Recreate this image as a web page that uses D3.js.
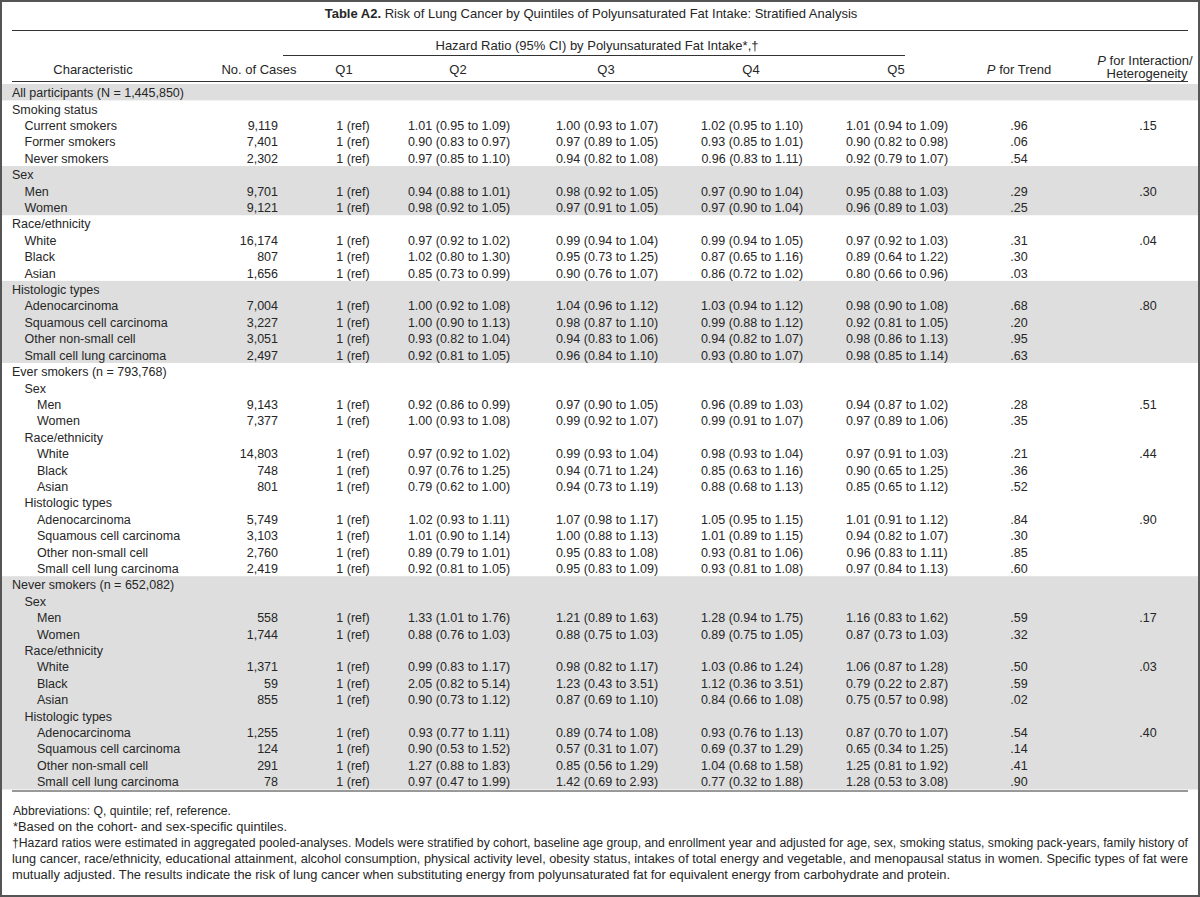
<!DOCTYPE html>
<html lang="en">
<head>
  <meta charset="UTF-8">
  <title>Table A2: Lung Cancer by Quintiles of Polyunsaturated Fat Intake</title>
  <script src="https://d3js.org/d3.v7.min.js"></script>
  <style>
    body { margin: 0; background: white; }
    svg { display: block; font-family: "Liberation Sans", Arial, sans-serif; }
    .cell { font-size: 12.5px; fill: #262626; }
    .head { font-size: 13px; fill: #262626; }
    .note { font-family: "Liberation Sans Narrow", "Liberation Sans", Arial, sans-serif; font-size: 12px; fill: #262626; }
    .rule { stroke: #333; stroke-width: 1; }
  </style>
</head>
<body>
  <svg width="1200" height="897"></svg>

  <script>
    const labels = [
      "All participants (N = 1,445,850)", "Smoking status", "Current smokers", "Former smokers", "Never smokers",
      "Sex", "Men", "Women",
      "Race/ethnicity", "White", "Black", "Asian",
      "Histologic types", "Adenocarcinoma", "Squamous cell carcinoma", "Other non-small cell", "Small cell lung carcinoma",
      "Ever smokers (n = 793,768)", "Sex", "Men", "Women", "Race/ethnicity", "White", "Black", "Asian",
      "Histologic types", "Adenocarcinoma", "Squamous cell carcinoma", "Other non-small cell", "Small cell lung carcinoma",
      "Never smokers (n = 652,082)", "Sex", "Men", "Women", "Race/ethnicity", "White", "Black", "Asian",
      "Histologic types", "Adenocarcinoma", "Squamous cell carcinoma", "Other non-small cell", "Small cell lung carcinoma"
    ];
    // hierarchy depth of each row
    const levels = [0, 0, 1, 1, 1, 0, 1, 1, 0, 1, 1, 1, 0, 1, 1, 1, 1,
      0, 1, 2, 2, 1, 2, 2, 2, 1, 2, 2, 2, 2,
      0, 1, 2, 2, 1, 2, 2, 2, 1, 2, 2, 2, 2];
    const cases = [null, null, 9119, 7401, 2302, null, 9701, 9121, null, 16174, 807, 1656,
      null, 7004, 3227, 3051, 2497,
      null, null, 9143, 7377, null, 14803, 748, 801, null, 5749, 3103, 2760, 2419,
      null, null, 558, 1744, null, 1371, 59, 855, null, 1255, 124, 291, 78];
    // hazard ratios [estimate, lower, upper]
    const q2 = [null, null, [1.01, 0.95, 1.09], [0.90, 0.83, 0.97], [0.97, 0.85, 1.10], null, [0.94, 0.88, 1.01], [0.98, 0.92, 1.05],
      null, [0.97, 0.92, 1.02], [1.02, 0.80, 1.30], [0.85, 0.73, 0.99],
      null, [1.00, 0.92, 1.08], [1.00, 0.90, 1.13], [0.93, 0.82, 1.04], [0.92, 0.81, 1.05],
      null, null, [0.92, 0.86, 0.99], [1.00, 0.93, 1.08], null, [0.97, 0.92, 1.02], [0.97, 0.76, 1.25], [0.79, 0.62, 1.00],
      null, [1.02, 0.93, 1.11], [1.01, 0.90, 1.14], [0.89, 0.79, 1.01], [0.92, 0.81, 1.05],
      null, null, [1.33, 1.01, 1.76], [0.88, 0.76, 1.03], null, [0.99, 0.83, 1.17], [2.05, 0.82, 5.14], [0.90, 0.73, 1.12],
      null, [0.93, 0.77, 1.11], [0.90, 0.53, 1.52], [1.27, 0.88, 1.83], [0.97, 0.47, 1.99]];
    const q3 = [null, null, [1.00, 0.93, 1.07], [0.97, 0.89, 1.05], [0.94, 0.82, 1.08], null, [0.98, 0.92, 1.05], [0.97, 0.91, 1.05],
      null, [0.99, 0.94, 1.04], [0.95, 0.73, 1.25], [0.90, 0.76, 1.07],
      null, [1.04, 0.96, 1.12], [0.98, 0.87, 1.10], [0.94, 0.83, 1.06], [0.96, 0.84, 1.10],
      null, null, [0.97, 0.90, 1.05], [0.99, 0.92, 1.07], null, [0.99, 0.93, 1.04], [0.94, 0.71, 1.24], [0.94, 0.73, 1.19],
      null, [1.07, 0.98, 1.17], [1.00, 0.88, 1.13], [0.95, 0.83, 1.08], [0.95, 0.83, 1.09],
      null, null, [1.21, 0.89, 1.63], [0.88, 0.75, 1.03], null, [0.98, 0.82, 1.17], [1.23, 0.43, 3.51], [0.87, 0.69, 1.10],
      null, [0.89, 0.74, 1.08], [0.57, 0.31, 1.07], [0.85, 0.56, 1.29], [1.42, 0.69, 2.93]];
    const q4 = [null, null, [1.02, 0.95, 1.10], [0.93, 0.85, 1.01], [0.96, 0.83, 1.11], null, [0.97, 0.90, 1.04], [0.97, 0.90, 1.04],
      null, [0.99, 0.94, 1.05], [0.87, 0.65, 1.16], [0.86, 0.72, 1.02],
      null, [1.03, 0.94, 1.12], [0.99, 0.88, 1.12], [0.94, 0.82, 1.07], [0.93, 0.80, 1.07],
      null, null, [0.96, 0.89, 1.03], [0.99, 0.91, 1.07], null, [0.98, 0.93, 1.04], [0.85, 0.63, 1.16], [0.88, 0.68, 1.13],
      null, [1.05, 0.95, 1.15], [1.01, 0.89, 1.15], [0.93, 0.81, 1.06], [0.93, 0.81, 1.08],
      null, null, [1.28, 0.94, 1.75], [0.89, 0.75, 1.05], null, [1.03, 0.86, 1.24], [1.12, 0.36, 3.51], [0.84, 0.66, 1.08],
      null, [0.93, 0.76, 1.13], [0.69, 0.37, 1.29], [1.04, 0.68, 1.58], [0.77, 0.32, 1.88]];
    const q5 = [null, null, [1.01, 0.94, 1.09], [0.90, 0.82, 0.98], [0.92, 0.79, 1.07], null, [0.95, 0.88, 1.03], [0.96, 0.89, 1.03],
      null, [0.97, 0.92, 1.03], [0.89, 0.64, 1.22], [0.80, 0.66, 0.96],
      null, [0.98, 0.90, 1.08], [0.92, 0.81, 1.05], [0.98, 0.86, 1.13], [0.98, 0.85, 1.14],
      null, null, [0.94, 0.87, 1.02], [0.97, 0.89, 1.06], null, [0.97, 0.91, 1.03], [0.90, 0.65, 1.25], [0.85, 0.65, 1.12],
      null, [1.01, 0.91, 1.12], [0.94, 0.82, 1.07], [0.96, 0.83, 1.11], [0.97, 0.84, 1.13],
      null, null, [1.16, 0.83, 1.62], [0.87, 0.73, 1.03], null, [1.06, 0.87, 1.28], [0.79, 0.22, 2.87], [0.75, 0.57, 0.98],
      null, [0.87, 0.70, 1.07], [0.65, 0.34, 1.25], [1.25, 0.81, 1.92], [1.28, 0.53, 3.08]];
    const pTrend = [null, null, 0.96, 0.06, 0.54, null, 0.29, 0.25, null, 0.31, 0.30, 0.03,
      null, 0.68, 0.20, 0.95, 0.63,
      null, null, 0.28, 0.35, null, 0.21, 0.36, 0.52, null, 0.84, 0.30, 0.85, 0.60,
      null, null, 0.59, 0.32, null, 0.50, 0.59, 0.02, null, 0.54, 0.14, 0.41, 0.90];
    const pInteraction = [null, null, 0.15, null, null, null, 0.30, null, null, 0.04, null, null,
      null, 0.80, null, null, null,
      null, null, 0.51, null, null, 0.44, null, null, null, 0.90, null, null, null,
      null, null, 0.17, null, null, 0.03, null, null, null, 0.40, null, null, null];

    const footnotes = [
      "Abbreviations: Q, quintile; ref, reference.",
      "*Based on the cohort- and sex-specific quintiles.",
      "\u2020Hazard ratios were estimated in aggregated pooled-analyses. Models were stratified by cohort, baseline age group, and enrollment year and adjusted for age, sex, smoking status, smoking pack-years, family history of",
      "lung cancer, race/ethnicity, educational attainment, alcohol consumption, physical activity level, obesity status, intakes of total energy and vegetable, and menopausal status in women. Specific types of fat were",
      "mutually adjusted. The results indicate the risk of lung cancer when substituting energy from polyunsaturated fat for equivalent energy from carbohydrate and protein."
    ];

    // ---- layout ----
    const svg = d3.select("svg");
    const W = 1200, H = 897, left = 12, right = 1188;

    const fmtCases = d3.format(",");
    const f2 = d3.format(".2f");
    const fmtHR = d => d ? `${f2(d[0])} (${f2(d[1])} to ${f2(d[2])})` : "";
    const fmtP = p => p == null ? "" : f2(p).replace(/^0/, "");

    const rows = labels.map((label, i) => ({
      i, label, level: levels[i],
      cases: cases[i] == null ? "" : fmtCases(cases[i]),
      q1: cases[i] == null ? "" : "1 (ref)",
      q2: fmtHR(q2[i]), q3: fmtHR(q3[i]), q4: fmtHR(q4[i]), q5: fmtHR(q5[i]),
      pt: fmtP(pTrend[i]), pi: fmtP(pInteraction[i])
    }));

    // group = block started by each top-level row; alternate blocks are shaded
    let grp = -1;
    rows.forEach(r => { if (r.level === 0) grp++; r.group = grp; });

    const y = d3.scaleBand().domain(d3.range(rows.length)).range([84, 789.5]);
    const indent = d3.scaleLinear().domain([0, 2]).range([left, left + 25]);

    const cols = [
      { key: "cases", x: 278, anchor: "end" },
      { key: "q1", x: 353, anchor: "middle" },
      { key: "q2", x: 459, anchor: "middle" },
      { key: "q3", x: 607, anchor: "middle" },
      { key: "q4", x: 752, anchor: "middle" },
      { key: "q5", x: 897, anchor: "middle" },
      { key: "pt", x: 1019, anchor: "middle" },
      { key: "pi", x: 1148, anchor: "middle" }
    ];

    // outer frame
    svg.append("rect")
      .attr("x", 1).attr("y", 1).attr("width", W - 2).attr("height", H - 2)
      .attr("fill", "white").attr("stroke", "#555").attr("stroke-width", 2);

    // shaded bands
    const groups = d3.groups(rows, r => r.group).filter(([g]) => g % 2 === 0);
    svg.append("g").selectAll("rect")
      .data(groups)
      .join("rect")
      .attr("x", 2)
      .attr("width", W - 4)
      .attr("y", ([, rs]) => y(rs[0].i))
      .attr("height", ([, rs]) => y.step() * rs.length)
      .attr("fill", "#dedede");

    // title
    const title = svg.append("text").attr("class", "head")
      .attr("x", W / 2 - 9).attr("y", 17.5).attr("text-anchor", "middle");
    title.append("tspan").attr("font-weight", "bold").text("Table A2.");
    title.append("tspan").text(" Risk of Lung Cancer by Quintiles of Polyunsaturated Fat Intake: Stratified Analysis");

    // rules
    svg.append("line").attr("class", "rule").attr("x1", left).attr("x2", right).attr("y1", 30.5).attr("y2", 30.5);
    svg.append("line").attr("class", "rule").attr("x1", 283).attr("x2", 905).attr("y1", 55.5).attr("y2", 55.5);
    svg.append("line").attr("class", "rule").attr("x1", left).attr("x2", right).attr("y1", 81.5).attr("y2", 81.5);
    svg.append("line").attr("class", "rule").attr("x1", left).attr("x2", right).attr("y1", 791).attr("y2", 791)
      .attr("stroke-width", 1.6);

    // header
    const head = svg.append("g").attr("class", "head").attr("text-anchor", "middle");
    head.append("text").attr("x", 597).attr("y", 49.5).text("Hazard Ratio (95% CI) by Polyunsaturated Fat Intake*,\u2020");
    const headers = [
      { t: "Characteristic", x: 93, y: 73.5 },
      { t: "No. of Cases", x: 259, y: 73.5 },
      { t: "Q1", x: 344, y: 73.5 },
      { t: "Q2", x: 458, y: 73.5 },
      { t: "Q3", x: 606, y: 73.5 },
      { t: "Q4", x: 751, y: 73.5 },
      { t: "Q5", x: 896, y: 73.5 }
    ];
    head.selectAll("text.h")
      .data(headers)
      .join("text")
      .attr("class", "h")
      .attr("x", d => d.x).attr("y", d => d.y)
      .text(d => d.t);
    const pt = head.append("text").attr("x", 1019).attr("y", 73.5);
    pt.append("tspan").attr("font-style", "italic").text("P");
    pt.append("tspan").text(" for Trend");
    const pi = head.append("text").attr("x", 1145).attr("y", 64.5);
    pi.append("tspan").attr("font-style", "italic").text("P");
    pi.append("tspan").text(" for Interaction/");
    head.append("text").attr("x", 1147).attr("y", 77.5).text("Heterogeneity");

    // body
    const body = svg.append("g").attr("class", "cell");
    const rowG = body.selectAll("g.row")
      .data(rows)
      .join("g")
      .attr("class", "row")
      .attr("transform", d => `translate(0,${y(d.i) + y.step() / 2})`);

    rowG.append("text")
      .attr("x", d => indent(d.level))
      .attr("dy", "0.4em")
      .text(d => d.label);

    cols.forEach(c => {
      rowG.append("text")
        .attr("x", c.x)
        .attr("dy", "0.4em")
        .attr("text-anchor", c.anchor)
        .text(d => d[c.key]);
    });

    // footnotes
    const noteY = d3.scaleLinear().domain([0, 1]).range([814.5, 830.5]);
    const noteWidths = [218, 274, 1176, 1176, 938];
    svg.append("g").selectAll("text")
      .data(footnotes)
      .join("text")
      .attr("class", "note")
      .attr("x", (d, i) => i >= 2 ? left : left + 1)
      .attr("y", (d, i) => noteY(i))
      .attr("textLength", (d, i) => noteWidths[i])
      .attr("lengthAdjust", "spacingAndGlyphs")
      .text(d => d);
  </script>
</body>
</html>
